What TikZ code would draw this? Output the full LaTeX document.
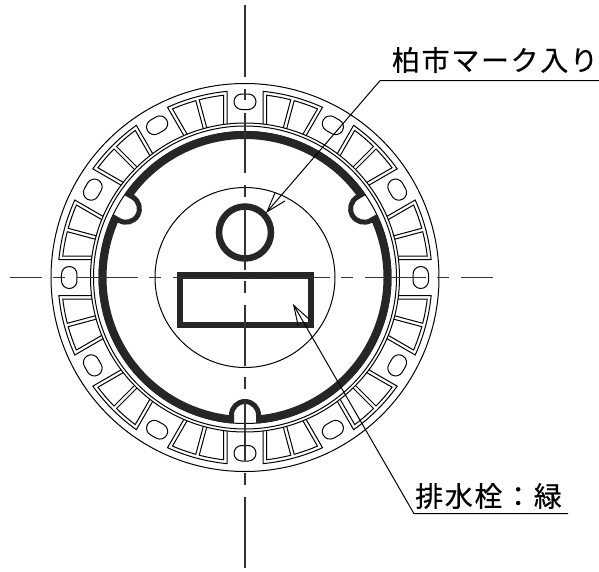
\documentclass[tikz,border=0pt]{standalone}
\usepackage{fontspec}
\usetikzlibrary{arrows.meta}
\newfontfamily\jpfont[LetterSpace=6,FakeBold=0.4]{Noto Sans CJK JP}
\tikzset{
  thinline/.style={draw=black, line width=1pt},
  heavyline/.style={draw=black!85, line width=6.5pt},
  centerline/.style={draw=black!80, line width=1.1pt},
  leader/.style={draw=black, line width=1pt, line join=miter, {Straight Barb[length=20pt,width=13pt]}-},
  label/.style={font=\jpfont\fontsize{28}{28}\selectfont, inner sep=0pt}
}
\begin{document}
\begin{tikzpicture}[x=1pt, y=1pt]
\useasboundingbox (-245,-293.5) rectangle (354,277.5);
% body circles
\draw[thinline] (0,0) circle (194);
\draw[thinline] (0,0) circle (154.5);
\draw[thinline] (0,0) circle (151.5);
\draw[thinline] (0,0) circle (146);
\draw[thinline] (0,0) circle (90);
% holes and windows
\foreach \a in {0,30,...,330} {
  \begin{scope}[rotate=\a]
    \draw[thinline, rounded corners=7.7pt] (168,-11) rectangle (183.5,11);
  \end{scope}
  \foreach \r/\s in {\a/1, \a+30/-1} {
    \begin{scope}[rotate=\r, yscale=\s]
      \draw[thinline] (153.45,18) -- (186.13,18) arc[start angle=5.52, end angle=15, radius=187];
      \draw[thinline] (153,21.5) -- (182.24,21.5) arc[start angle=6.73, end angle=14.45, radius=183.5] -- (14.35:154.5);
    \end{scope}
  }
}
% thick ring with notches
\foreach \a in {30,150,270} {
  \begin{scope}[rotate=\a]
    \draw[heavyline, line width=8pt] (5.44:142.5) arc[start angle=5.44, end angle=114.56, radius=142.5];
    \draw[heavyline, line width=5pt] (145.5,-13.5) -- (137.5,-13.5) arc[start angle=270, end angle=90, radius=13.5] -- (145.5,13.5);
  \end{scope}
}
\draw[heavyline] (0,45) circle (26);
\draw[heavyline] (-65,2) rectangle (66,-47.5);
% center lines
\foreach \p/\q in {272.5/200.5, 188.5/177.5, 164.5/104.5, 92.5/80.5, 68.5/7.5, -3.5/-15.5, -27.5/-88.5, -99.5/-111.5, -122.5/-183.5, -195.5/-207.5, -219.5/-290.5} {
  \draw[centerline] (0,\p) -- (0,\q);
}
\foreach \p/\q in {-235/-203, -192/-180, -168/-107, -96/-84, -72/-11, 0/12, 24/85, 96/108, 120/181, 192/204, 216/248} {
  \draw[centerline] (\p,0) -- (\q,0);
}
% leaders
\coordinate (markTip) at (21,64.5);
\coordinate (markElbow) at (135,196.8);
\coordinate (markEnd) at (354,196.8);
\coordinate (drainTip) at (48,-26.5);
\coordinate (drainElbow) at (169,-236.2);
\coordinate (drainEnd) at (323,-236.2);
\draw[leader] (markTip) -- (markElbow) -- (markEnd);
\draw[leader] (drainTip) -- (drainElbow) -- (drainEnd);
\node[label] (markLabel) at (250,217.5) {柏市マーク入り};
\node[label] (drainLabel) at (243.5,-218.5) {排水栓：緑};
\end{tikzpicture}
\end{document}
